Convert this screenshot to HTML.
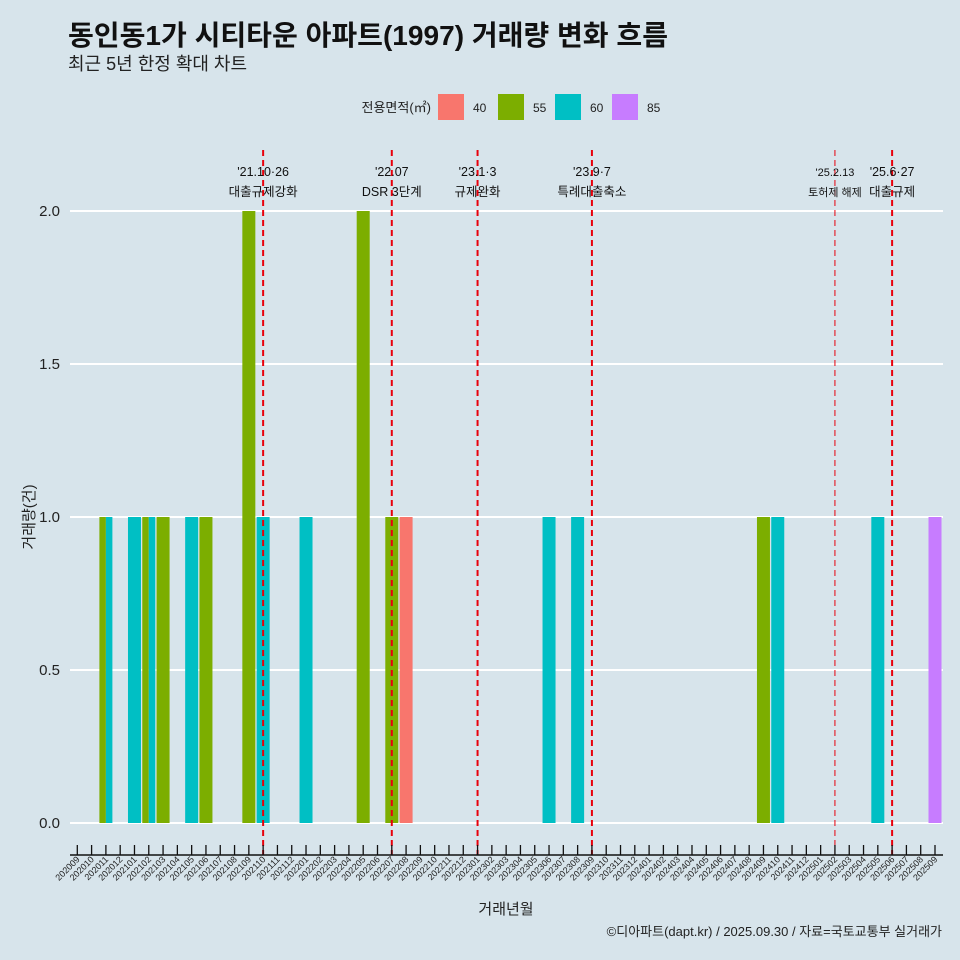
<!DOCTYPE html>
<html><head><meta charset="utf-8"><style>
html,body{margin:0;padding:0;background:#d7e4eb;}
svg{display:block;font-family:"Liberation Sans","Noto Sans CJK KR",sans-serif;}
</style></head><body>
<svg id="chart" width="960" height="960" viewBox="0 0 960 960" xmlns="http://www.w3.org/2000/svg">
<rect width="960" height="960" fill="#d7e4eb"/>
<text x="68" y="45" font-size="28" font-weight="bold" fill="#111" textLength="600" lengthAdjust="spacingAndGlyphs">동인동1가 시티타운 아파트(1997) 거래량 변화 흐름</text>
<text x="68" y="70" font-size="18" fill="#222">최근 5년 한정 확대 차트</text>
<g id="legend"></g>
<g id="grid"></g>
<g id="bars"></g>
<g id="events"></g>
<g id="xaxis"></g>
<text transform="translate(34,517) rotate(-90)" text-anchor="middle" font-size="15" fill="#222">거래량(건)</text>
<text x="506" y="914" text-anchor="middle" font-size="15" fill="#222">거래년월</text>
<text x="942" y="936" text-anchor="end" font-size="13" fill="#222">©디아파트(dapt.kr) / 2025.09.30 / 자료=국토교통부 실거래가</text>
</svg>
<script>
const areas = ["40","55","60","85"];
const areaColors = ["#f8766d","#7cae00","#00bfc4","#c77cff"];
const barMonths = ["202011","202011","202101","202102","202102","202103","202105","202106","202109","202110","202201","202205","202207","202208","202306","202308","202409","202410","202505","202509"];
const barAreas  = ["55","60","60","55","60","55","60","55","55","60","60","55","55","40","60","60","55","60","60","85"];
const barValues = [1,1,1,1,1,1,1,1,2,1,1,2,1,1,1,1,1,1,1,1];
const yTicks = [0,0.5,1,1.5,2];
const yTickLabels = ["0.0","0.5","1.0","1.5","2.0"];
const eventMonths = ["202110","202207","202301","202309","202502","202506"];
const eventLine1 = ["'21.10·26","'22.07","'23.1·3","'23.9·7","'25.2.13","'25.6·27"];
const eventLine2 = ["대출규제강화","DSR 3단계","규제완화","특례대출축소","토허제 해제","대출규제"];

const NS="http://www.w3.org/2000/svg";
function mk(tag,attrs,parent,txt){const e=document.createElementNS(NS,tag);for(const k in attrs)e.setAttribute(k,attrs[k]);if(txt!==undefined)e.textContent=txt;parent.appendChild(e);return e;}
const months=[];for(let y=2020,m=9;;){months.push(""+y+(m<10?"0"+m:m));if(y===2025&&m===9)break;m++;if(m>12){m=1;y++;}}
const x0=77.3,step=(935-77.3)/60;
const xS=mo=>x0+months.indexOf(mo)*step;
const yS=v=>823-v*306;
const L=70,R=943;

const grid=document.getElementById('grid');
yTicks.forEach((t,i)=>{
  let g=mk('line',{x1:L,x2:R,y1:yS(t),y2:yS(t),stroke:'#fff','stroke-width':2},grid);
  
  
  let tl=mk('text',{x:60,y:yS(t)+5,'text-anchor':'end','font-size':15,fill:'#222'},grid,yTickLabels[i]);
  
  
});

const bars=document.getElementById('bars');
const bw=13;
barMonths.forEach((mo,i)=>{
  const same=[];barMonths.forEach((m2,j)=>{if(m2===mo)same.push(j);});
  const n=same.length,k=same.indexOf(i),w=bw/n;
  const cx=xS(mo),x=cx-bw/2+k*w;
  const r=mk('rect',{x:x,y:yS(barValues[i]),width:w,height:yS(0)-yS(barValues[i]),fill:areaColors[areas.indexOf(barAreas[i])]},bars);
  
  
});

const ev=document.getElementById('events');
eventMonths.forEach((mo,i)=>{
  const x=xS(mo),thin=mo==="202502";
  const l=mk('line',{x1:x,x2:x,y1:150,y2:855,stroke:'#e8000b','stroke-width':thin?1:2,'stroke-dasharray':'6,4'},ev);
  
  
  const fs=thin?11:12.5;
  const t1=mk('text',{x:x,y:176,'text-anchor':'middle','font-size':fs,fill:'#111'},ev,eventLine1[i]);
  
  
  const t2=mk('text',{x:x,y:196,'text-anchor':'middle','font-size':fs,fill:'#111'},ev,eventLine2[i]);
  
  
});

const xa=document.getElementById('xaxis');
const ax=mk('line',{x1:L,x2:R,y1:855,y2:855,stroke:'#111','stroke-width':1.5},xa);


months.forEach(mo=>{
  const x=xS(mo);
  const t=mk('line',{x1:x,x2:x,y1:845,y2:855,stroke:'#111','stroke-width':1.3},xa);
  
  
  const lb=mk('text',{transform:`translate(${x+3},860) rotate(-45)`,'text-anchor':'end','font-size':9,fill:'#222'},xa,mo);
  
  
});

const lg=document.getElementById('legend');
const lt=mk('text',{x:431,y:112,'text-anchor':'end','font-size':13,fill:'#222'},lg,'전용면적(㎡)');


const kx=[438,498,555,612];
areas.forEach((a,i)=>{
  const r=mk('rect',{x:kx[i],y:94,width:26,height:26,fill:areaColors[i]},lg);
  
  
  const t=mk('text',{x:kx[i]+35,y:112,'font-size':12,fill:'#222'},lg,a);
  
  
});
</script>
</body></html>
